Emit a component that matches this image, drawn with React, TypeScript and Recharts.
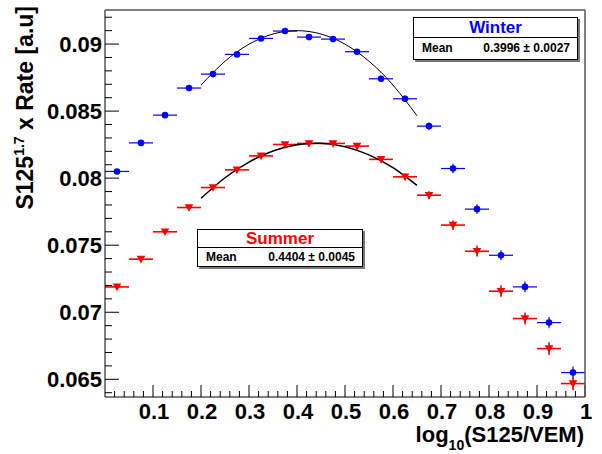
import React from "react";
import { ComposedChart, Scatter, Line, XAxis, YAxis, ErrorBar } from "recharts";

// bin centres of log10(S125/VEM)
const binCentres = [
  0.025, 0.075, 0.125, 0.175, 0.225, 0.275, 0.325, 0.375, 0.425, 0.475,
  0.525, 0.575, 0.625, 0.675, 0.725, 0.775, 0.825, 0.875, 0.925, 0.975,
];
const binHalfWidth = 0.025;

const winterValues = [
  0.0805, 0.08263, 0.0847, 0.08672, 0.08776, 0.08923, 0.09042, 0.09097, 0.09052, 0.09037,
  0.08943, 0.08741, 0.08592, 0.08388, 0.08072, 0.07769, 0.07425, 0.07189, 0.06923, 0.0655,
];
const winterErrors = [
  0.00015, 0.00015, 0.00015, 0.00015, 0.00016, 0.00017, 0.00018, 0.00019, 0.0002, 0.0002,
  0.00021, 0.00022, 0.00024, 0.00027, 0.00035, 0.00037, 0.00037, 0.0004, 0.00042, 0.00045,
];

const summerValues = [
  0.07189, 0.07396, 0.076, 0.07781, 0.0793, 0.08062, 0.08166, 0.08251, 0.08259, 0.08259,
  0.08239, 0.0814, 0.0801, 0.07873, 0.0765, 0.07455, 0.07157, 0.06953, 0.06729, 0.06468,
];
const summerErrors = [
  0.00015, 0.00015, 0.00015, 0.00016, 0.00016, 0.00017, 0.00018, 0.00019, 0.0002, 0.0002,
  0.00021, 0.00022, 0.00025, 0.0003, 0.00035, 0.0004, 0.00042, 0.00045, 0.00047, 0.0005,
];

// fitted curves
const fitX = [0.2, 0.25, 0.3, 0.35, 0.4, 0.45, 0.5, 0.55, 0.6, 0.65];
const winterFit = [0.08694, 0.08872, 0.08999, 0.09075, 0.091, 0.09075, 0.08999, 0.08872, 0.08694, 0.08466];
const summerFit = [0.0785, 0.08003, 0.0812, 0.08202, 0.08249, 0.0826, 0.08234, 0.08174, 0.08078, 0.07946];

const xMajorTicks = [0.1, 0.2, 0.3, 0.4, 0.5, 0.6, 0.7, 0.8, 0.9, 1];
const yMajorTicks = [0.065, 0.07, 0.075, 0.08, 0.085, 0.09];
const xTicks = Array.from({ length: 50 }, (_, i) => +((i + 1) * 0.02).toFixed(2));
const yTicks = Array.from({ length: 29 }, (_, i) => +(0.064 + i * 0.001).toFixed(3));

const yDomain = [0.06368, 0.09254];

const winterData = binCentres.map((x, i) => ({ x, y: winterValues[i], ex: binHalfWidth, ey: winterErrors[i] }));
const summerData = binCentres.map((x, i) => ({ x, y: summerValues[i], ex: binHalfWidth, ey: summerErrors[i] }));
const winterFitData = fitX.map((x, i) => ({ x, y: winterFit[i] }));
const summerFitData = fitX.map((x, i) => ({ x, y: summerFit[i] }));

const FONT = "'Liberation Sans', Arial, Helvetica, sans-serif";

const isMajor = (v: number, list: number[]) => list.some((m) => Math.abs(m - v) < 1e-7);

const XTick = (props: any) => {
  const { x, y, payload } = props;
  const major = isMajor(payload.value, xMajorTicks);
  return (
    <g>
      <line x1={x} x2={x} y1={y} y2={y - (major ? 12 : 6)} stroke="#000" />
      {major && (
        <text x={x + 1} y={y + 22} textAnchor="middle" fontFamily={FONT} fontWeight="bold" fontSize={22} fill="#000">
          {String(payload.value)}
        </text>
      )}
    </g>
  );
};

const YTick = (props: any) => {
  const { x, y, payload } = props;
  const major = isMajor(payload.value, yMajorTicks);
  return (
    <g>
      <line x1={x} x2={x + (major ? 14 : 7)} y1={y} y2={y} stroke="#000" />
      {major && (
        <text x={x - 3} y={y + 8} textAnchor="end" fontFamily={FONT} fontWeight="bold" fontSize={22} fill="#000">
          {String(parseFloat(payload.value.toFixed(3)))}
        </text>
      )}
    </g>
  );
};

const Dot = (props: any) => <circle cx={props.cx} cy={props.cy} r={3.3} fill="#0000ff" />;

const Tri = (props: any) => {
  const { cx, cy } = props;
  return <polygon points={`${cx - 4.3},${cy - 3.3} ${cx + 4.3},${cy - 3.3} ${cx},${cy + 4.3}`} fill="#ff0000" />;
};

function StatBox({ left, top, width, titleH, rowH, title, color, mean }: any) {
  return (
    <div
      style={{
        position: "absolute",
        left,
        top,
        width,
        background: "#fff",
        border: "1px solid #000",
        boxShadow: "2px 2px 0 #777",
        fontFamily: FONT,
      }}
    >
      <div
        style={{
          height: titleH,
          lineHeight: `${titleH}px`,
          textAlign: "center",
          color,
          fontWeight: "bold",
          fontSize: 17,
          borderBottom: "1px solid #000",
        }}
      >
        {title}
      </div>
      <div
        style={{
          height: rowH,
          lineHeight: `${rowH}px`,
          fontSize: 12,
          fontWeight: "bold",
          display: "flex",
          justifyContent: "space-between",
          padding: "0 7px 0 8px",
        }}
      >
        <span>Mean</span>
        <span>{mean}</span>
      </div>
    </div>
  );
}

export default function App() {
  return (
    <div style={{ position: "absolute", left: 0, top: 0, width: 602, height: 454, background: "#fff" }}>
      <ComposedChart width={602} height={454} margin={{ top: 10, right: 17, bottom: 56, left: 104 }}>
        <XAxis
          type="number"
          dataKey="x"
          domain={[0, 1]}
          ticks={xTicks}
          interval={0}
          height={1}
          tickSize={0}
          tickMargin={0}
          tick={<XTick />}
          axisLine={{ stroke: "#000" }}
          allowDataOverflow
        />
        <YAxis
          type="number"
          dataKey="y"
          domain={yDomain}
          ticks={yTicks}
          interval={0}
          width={1}
          tickSize={0}
          tickMargin={0}
          tick={<YTick />}
          axisLine={{ stroke: "#000" }}
          allowDataOverflow
        />
        <Scatter data={winterData} shape={<Dot />} isAnimationActive={false}>
          <ErrorBar dataKey="ex" direction="x" width={0} stroke="#0000ff" strokeWidth={1.2} />
          <ErrorBar dataKey="ey" direction="y" width={0} stroke="#0000ff" strokeWidth={1.2} />
        </Scatter>
        <Scatter data={summerData} shape={<Tri />} isAnimationActive={false}>
          <ErrorBar dataKey="ex" direction="x" width={0} stroke="#ff0000" strokeWidth={1.6} />
          <ErrorBar dataKey="ey" direction="y" width={0} stroke="#ff0000" strokeWidth={1.6} />
        </Scatter>
        <Line
          data={winterFitData}
          dataKey="y"
          type="natural"
          stroke="#000"
          strokeWidth={1}
          dot={false}
          activeDot={false}
          isAnimationActive={false}
        />
        <Line
          data={summerFitData}
          dataKey="y"
          type="natural"
          stroke="#000"
          strokeWidth={1.5}
          dot={false}
          activeDot={false}
          isAnimationActive={false}
        />
      </ComposedChart>
      <svg width={602} height={454} style={{ position: "absolute", left: 0, top: 0, pointerEvents: "none" }}>
        <line x1={105} x2={585} y1={10} y2={10} stroke="#555" strokeWidth={1.5} />
        <line x1={585} x2={585} y1={10} y2={397} stroke="#555" strokeWidth={1.5} />
        <text
          transform="translate(33,6) rotate(-90)"
          textAnchor="end"
          fontFamily={FONT}
          fontWeight="bold"
          fontSize={23}
          fill="#000"
        >
          S125
          <tspan fontSize={14} dy={-9}>1.7</tspan>
          <tspan dy={9}> x Rate  [a.u]</tspan>
        </text>
        <text x={584} y={442} textAnchor="end" fontFamily={FONT} fontWeight="bold" fontSize={22} fill="#000">
          log
          <tspan fontSize={14} dy={8}>10</tspan>
          <tspan dy={-8}>(S125/VEM)</tspan>
        </text>
      </svg>
      <StatBox left={413} top={17} width={163} titleH={19} rowH={21} title="Winter" color="#0000ff" mean="0.3996 ± 0.0027" />
      <StatBox left={197} top={229} width={164} titleH={17} rowH={18} title="Summer" color="#ff0000" mean="0.4404 ± 0.0045" />
    </div>
  );
}
